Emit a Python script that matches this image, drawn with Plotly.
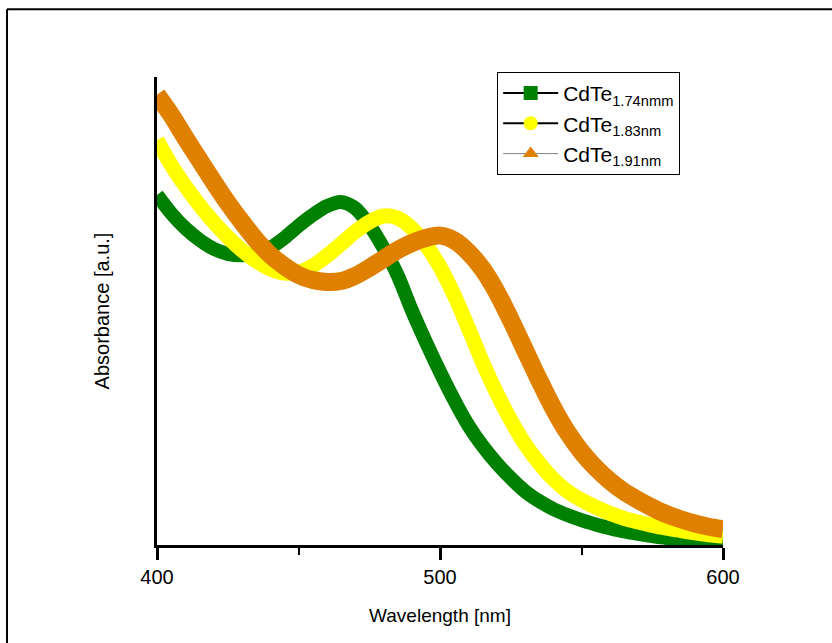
import plotly.graph_objects as go

# Wavelength grid (nm)
wavelength = [400, 405, 410, 415, 420, 425, 430, 435, 440, 445, 450, 455, 460, 465,
              470, 475, 480, 485, 490, 495, 500, 505, 510, 515, 520, 525, 530, 535,
              540, 545, 550, 555, 560, 565, 570, 575, 580, 585, 590, 595, 600]

# Absorbance (a.u.)
cdte_174 = [0.748, 0.709, 0.677, 0.652, 0.633, 0.622, 0.619, 0.622, 0.635, 0.656,
            0.682, 0.705, 0.724, 0.733, 0.720, 0.684, 0.635, 0.577, 0.502, 0.434,
            0.370, 0.310, 0.256, 0.212, 0.175, 0.143, 0.115, 0.094, 0.077, 0.064,
            0.053, 0.044, 0.036, 0.029, 0.024, 0.019, 0.015, 0.013, 0.011, 0.010, 0.009]
cdte_183 = [0.865, 0.812, 0.767, 0.726, 0.690, 0.658, 0.630, 0.607, 0.590, 0.581,
            0.583, 0.596, 0.618, 0.643, 0.669, 0.690, 0.703, 0.699, 0.677, 0.641,
            0.594, 0.534, 0.464, 0.391, 0.325, 0.267, 0.216, 0.175, 0.141, 0.115,
            0.096, 0.081, 0.068, 0.057, 0.049, 0.042, 0.036, 0.031, 0.026, 0.022, 0.019]
cdte_191 = [0.962, 0.919, 0.870, 0.823, 0.776, 0.731, 0.690, 0.652, 0.620, 0.596,
            0.577, 0.566, 0.562, 0.564, 0.575, 0.592, 0.611, 0.630, 0.645, 0.656,
            0.661, 0.651, 0.626, 0.590, 0.541, 0.481, 0.417, 0.353, 0.293, 0.241,
            0.199, 0.165, 0.137, 0.114, 0.096, 0.080, 0.066, 0.055, 0.046, 0.039, 0.034]

names = ["CdTe<sub>1.74nmm</sub>", "CdTe<sub>1.83nm</sub>", "CdTe<sub>1.91nm</sub>"]
series = [cdte_174, cdte_183, cdte_191]
colors = ["#008000", "#FFFF00", "#E08000"]
widths = [14, 15, 18]
symbols = ["square", "circle", "triangle-up"]
legend_line_colors = ["#000000", "#000000", "#808080"]
legend_line_widths = [2, 2, 1]

fig = go.Figure()

for vals, col, w in zip(series, colors, widths):
    fig.add_trace(go.Scatter(
        x=wavelength, y=vals, mode="lines",
        line=dict(color=col, width=w, shape="spline", smoothing=0.8),
        showlegend=False, hoverinfo="skip"))

for name, col, sym, lc, lw in zip(names, colors, symbols, legend_line_colors, legend_line_widths):
    fig.add_trace(go.Scatter(
        x=[None], y=[None], mode="lines+markers", name=name,
        line=dict(color=lc, width=lw),
        marker=dict(color=col, symbol=sym, size=14, line=dict(width=0))))

font_family = "Liberation Sans, Arial, sans-serif"

fig.update_layout(
    width=832, height=643, autosize=False,
    margin=dict(l=157, r=109, t=77, b=98),
    paper_bgcolor="white", plot_bgcolor="white",
    font=dict(family=font_family, size=19, color="black"),
    xaxis=dict(
        range=[400, 600], tickvals=[400, 500, 600],
        showline=True, linecolor="black", linewidth=3,
        ticks="outside", ticklen=12, tickwidth=3, tickcolor="black",
        minor=dict(ticks="outside", tickvals=[450, 550], ticklen=7, tickwidth=2, tickcolor="black"),
        showgrid=False, zeroline=False,
        tickfont=dict(size=20),
        title=dict(text="Wavelength [nm]", font=dict(size=19), standoff=22),
    ),
    yaxis=dict(
        range=[0, 1], showline=True, linecolor="black", linewidth=3,
        showticklabels=False, ticks="", showgrid=False, zeroline=False,
        title=dict(text="Absorbance [a.u.]", font=dict(size=20), standoff=40),
    ),
    legend=dict(
        x=0.601, y=1.011, xanchor="left", yanchor="top",
        bgcolor="white", bordercolor="black", borderwidth=1,
        font=dict(size=21), tracegroupgap=0, itemwidth=55,
    ),
    shapes=[
        dict(type="line", xref="paper", yref="paper", x0=-0.265, x1=1.3, y0=1.145, y1=1.145,
             line=dict(color="black", width=2)),
        dict(type="line", xref="paper", yref="paper", x0=-0.265, x1=-0.265, y0=1.145, y1=-0.3,
             line=dict(color="black", width=2)),
    ],
)

fig.write_html("out.html")
